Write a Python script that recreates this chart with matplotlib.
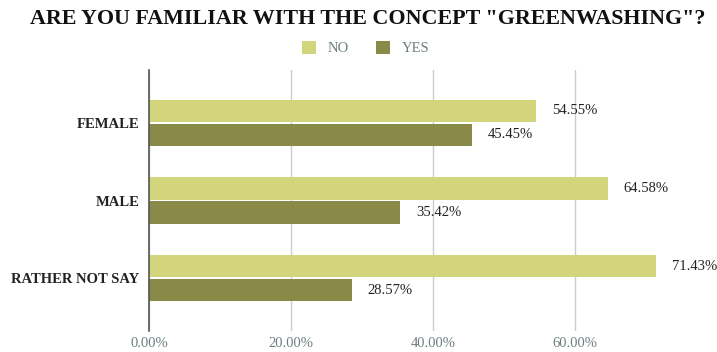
import numpy as np
import matplotlib.pyplot as plt

categories = ["FEMALE", "MALE", "RATHER NOT SAY"]
no_values = [54.55, 64.58, 71.43]
yes_values = [45.45, 35.42, 28.57]
x_ticks = [0, 20, 40, 60]

no_color = "#d3d57c"
yes_color = "#8a8a48"

plt.rcParams['font.family'] = ['Liberation Serif', 'DejaVu Serif']

fig = plt.figure(figsize=(7.17, 3.52), dpi=100)
ax = fig.add_axes([149 / 717, 1 - 331 / 352, (717 - 149) / 717, (331 - 70) / 352])

y = np.arange(len(categories))
h = 0.29
gap = 0.02
ax.barh(y - h / 2 - gap / 2, no_values, height=h, color=no_color, label="NO", zorder=3)
ax.barh(y + h / 2 + gap / 2, yes_values, height=h, color=yes_color, label="YES", zorder=3)

# value labels next to each bar
for yi, v in zip(y, no_values):
    ax.text(v + 2.2, yi - h / 2 - gap / 2, f"{v:.2f}%", va="center", ha="left",
            fontsize=10.5, color="#222222")
for yi, v in zip(y, yes_values):
    ax.text(v + 2.2, yi + h / 2 + gap / 2, f"{v:.2f}%", va="center", ha="left",
            fontsize=10.5, color="#222222")

ax.set_xlim(0, 80)
ax.set_ylim(2.68, -0.68)
ax.set_yticks(y)
ax.set_yticklabels(categories, fontsize=10.5, fontweight="bold", color="#222222")
ax.set_xticks(x_ticks)
ax.set_xticklabels([f"{t:.2f}%" for t in x_ticks], fontsize=10.5, color="#6e7f80")
ax.tick_params(axis="y", length=0, pad=7)
ax.tick_params(axis="x", length=0, pad=4)
ax.grid(axis="x", color="#cccccc", linewidth=1, zorder=0)
for s in ["top", "right", "bottom"]:
    ax.spines[s].set_visible(False)
ax.spines["left"].set_color("#555555")
ax.spines["left"].set_linewidth(1.2)
ax.spines["left"].set_zorder(4)

fig.suptitle('ARE YOU FAMILIAR WITH THE CONCEPT "GREENWASHING"?', x=0.513, y=0.975,
             fontsize=15.8, fontweight="bold", color="#111111")
fig.legend(loc="center", bbox_to_anchor=(0.51, 1 - 48 / 352), ncol=2, frameon=False,
           fontsize=10.5, handlelength=1.0, handleheight=1.0, columnspacing=1.8,
           labelcolor="#6e7f80")

fig.savefig("out.png", dpi=100)
